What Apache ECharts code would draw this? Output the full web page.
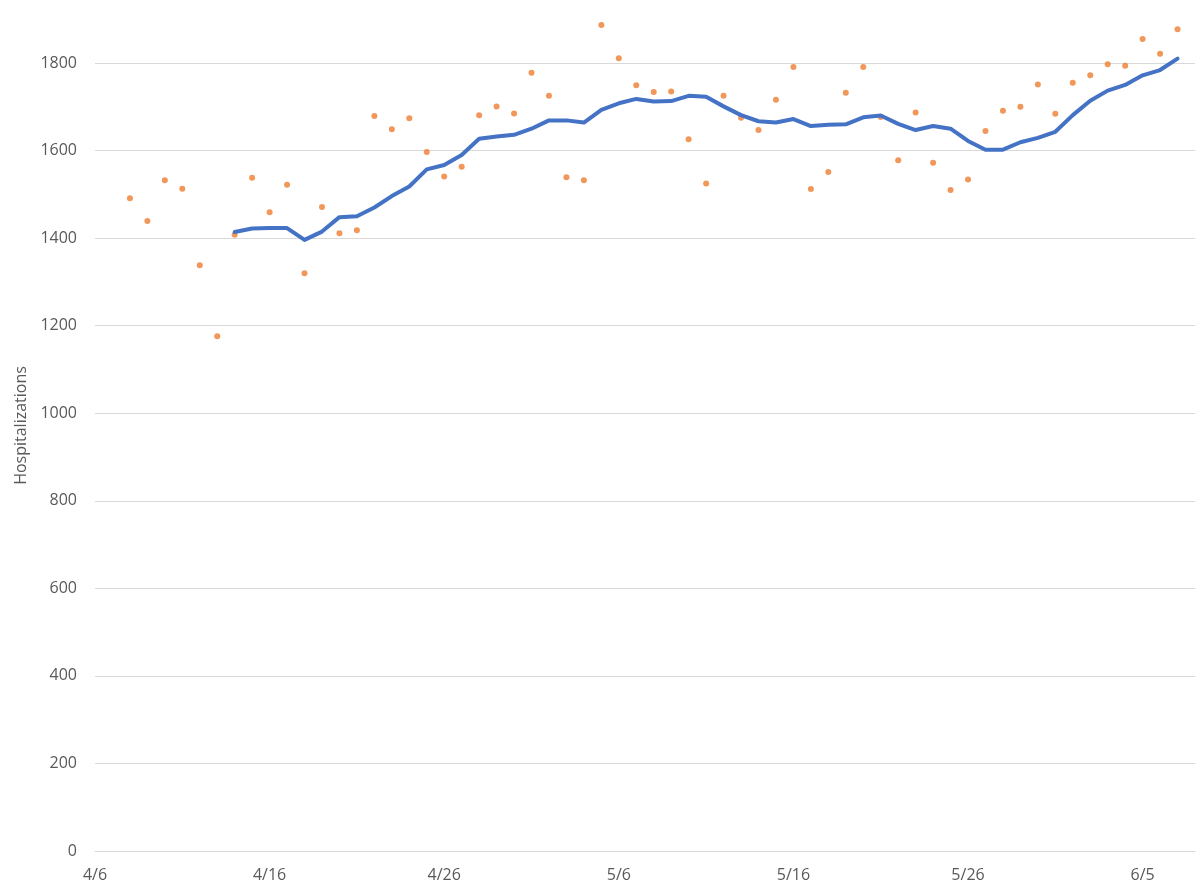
<!DOCTYPE html>
<html>
<head>
<meta charset="utf-8">
<script src="https://cdn.jsdelivr.net/npm/echarts@6/dist/echarts.min.js"></script>
<style>
  html, body { margin: 0; padding: 0; background: #ffffff; }
  #chart { width: 1200px; height: 893px; }
</style>
</head>
<body>
<div id="chart"></div>
<script>
// Daily observations (orange dots)
const dates = ['4/8','4/9','4/10','4/11','4/12','4/13','4/14','4/15','4/16','4/17',
  '4/18','4/19','4/20','4/21','4/22','4/23','4/24','4/25','4/26','4/27',
  '4/28','4/29','4/30','5/1','5/2','5/3','5/4','5/5','5/6','5/7',
  '5/8','5/9','5/10','5/11','5/12','5/13','5/14','5/15','5/16','5/17',
  '5/18','5/19','5/20','5/21','5/22','5/23','5/24','5/25','5/26','5/27',
  '5/28','5/29','5/30','5/31','6/1','6/2','6/3','6/4','6/5','6/6','6/7'];
const dailyValues = [1491,1439,1532,1513,1338,1176,1408,1538,1459,1522,
  1320,1471,1411,1418,1679,1649,1674,1597,1541,1563,
  1681,1701,1685,1778,1725,1539,1532,1887,1811,1749,
  1734,1735,1626,1525,1725,1675,1647,1716,1791,1512,
  1551,1732,1791,1677,1578,1687,1572,1510,1534,1645,
  1691,1700,1751,1684,1755,1772,1797,1794,1855,1821,1877];
// Trend line (blue), starting at 4/14
const avgStart = '4/14';
const avgValues = [1414,1422,1423,1423,1396,1415,1448,1450,1470,1496,
  1518,1557,1567,1590,1627,1632,1636,1650,1669,1669,
  1664,1693,1708,1718,1712,1713,1725,1723,1701,1681,
  1667,1664,1672,1656,1659,1660,1676,1680,1661,1647,
  1656,1650,1622,1602,1602,1619,1629,1643,1681,1714,
  1737,1750,1772,1784,1810];
const axisStart = '4/6';
const axisEnd = '6/8';
// visible top of the (cropped) value axis
const yTicks = { min: 0, max: 1944, step: 200 };
const xTickStep = 10;

function toUTC(s) {
  const p = s.split('/').map(Number);
  return Date.UTC(2020, p[0] - 1, p[1]);
}
const base = toUTC(axisStart);
function dayIndex(s) { return Math.round((toUTC(s) - base) / 86400000); }
function labelFor(idx) {
  const d = new Date(base + idx * 86400000);
  return (d.getUTCMonth() + 1) + '/' + d.getUTCDate();
}

const dotData = dates.map((d, i) => [dayIndex(d), dailyValues[i]]);
const startIdx = dates.indexOf(avgStart);
const lineData = avgValues.map((v, i) => [dayIndex(dates[startIdx + i]), v]);

const font = '"Open Sans", "Liberation Sans", sans-serif';
const chart = echarts.init(document.getElementById('chart'), null, { renderer: 'canvas' });
chart.setOption({
  animation: false,
  backgroundColor: '#ffffff',
  grid: { left: 95, right: 5, top: 0, bottom: 42, containLabel: false },
  xAxis: {
    type: 'value',
    min: 0,
    max: dayIndex(axisEnd),
    interval: xTickStep,
    axisLine: { show: true, lineStyle: { color: '#D9D9D9', width: 1 } },
    axisTick: { show: false },
    splitLine: { show: false },
    axisLabel: {
      color: '#595959', fontSize: 16, fontFamily: font, margin: 16,
      showMaxLabel: false,
      formatter: v => labelFor(v)
    }
  },
  yAxis: {
    type: 'value',
    min: yTicks.min, max: yTicks.max, interval: yTicks.step,
    name: 'Hospitalizations',
    nameLocation: 'middle',
    nameGap: 55,
    nameTextStyle: { color: '#595959', fontSize: 16, fontFamily: font },
    axisLine: { show: false },
    axisTick: { show: false },
    splitLine: { showMaxLine: false, lineStyle: { color: '#D9D9D9', width: 1 } },
    axisLabel: {
      color: '#595959', fontSize: 16, fontFamily: font, margin: 18,
      showMaxLabel: false,
      formatter: v => String(v)
    }
  },
  series: [
    {
      type: 'scatter',
      data: dotData,
      symbol: 'circle',
      symbolSize: 6,
      itemStyle: { color: '#ED7D31' },
      z: 2
    },
    {
      type: 'line',
      data: lineData,
      showSymbol: false,
      symbol: 'none',
      lineStyle: { color: '#4472C4', width: 4, cap: 'round', join: 'round' },
      z: 3
    }
  ]
});
</script>
</body>
</html>
